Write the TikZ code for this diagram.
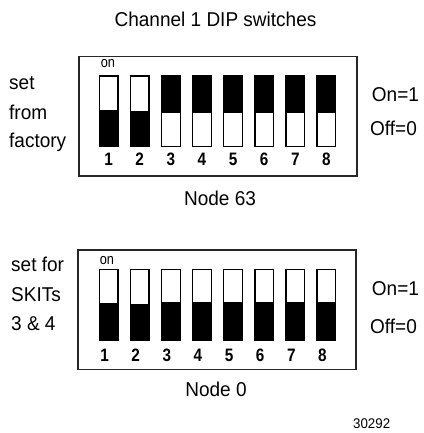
\documentclass[tikz,border=0pt]{standalone}
\usepackage{fontspec}
\setmainfont[FakeStretch=0.95]{Liberation Sans}
\newfontfamily\narrowfont[FakeStretch=0.85]{Liberation Sans}
\begin{document}
\begin{tikzpicture}[x=1pt,y=-1pt,
  lbl/.style={inner sep=0pt,font=\fontsize{20}{24}\selectfont},
  num/.style={inner sep=0pt,anchor=base,font=\narrowfont\fontsize{18}{20}\selectfont\bfseries},
  onl/.style={inner sep=0pt,anchor=base,font=\narrowfont\fontsize{15}{18}\selectfont},
  frame/.style={draw=black!85,line width=1.6pt},
  swline/.style={draw=black,line width=1.4pt},
  blk/.style={fill=black}]
\useasboundingbox (0,0) rectangle (423,433);
% ---------- frames ----------
\draw[frame] (78.7,56.7) rectangle (356.7,176);
\draw[frame] (78,250) rectangle (355.7,369.3);
% ---------- switches (top) ----------
\fill[blk] (99.3,110) rectangle (118,146.7);
\fill[blk] (130.4,111) rectangle (149.1,146.7);
\foreach \k in {2,...,7}{
  \fill[blk] ([xshift=\k*31.1pt]99.3,76) rectangle ([xshift=\k*31.1pt]118,113.3);
}
\foreach \k in {0,...,7}{
  \draw[swline] ([xshift=\k*31.1pt]99.3,76) rectangle ([xshift=\k*31.1pt]118,146.7);
}
% ---------- switches (bottom) ----------
\fill[blk] (99.3,303) rectangle (118,340);
\fill[blk] (130.4,304) rectangle (149.1,340);
\foreach \k in {2,...,7}{
  \fill[blk] ([xshift=\k*31.1pt]99.3,302) rectangle ([xshift=\k*31.1pt]118,340);
}
\foreach \k in {0,...,7}{
  \draw[swline] ([xshift=\k*31.1pt]99.3,269.3) rectangle ([xshift=\k*31.1pt]118,340);
}
% ---------- texts ----------
\node[lbl,anchor=base] (title) at (215.5,26.7) {Channel 1 DIP switches};
\node[onl] (onA) at (108,67.5) {on};
\node[onl] (onB) at (107,264.5) {on};
\foreach \i in {1,...,8}{
  \node[num] (nA\i) at ([xshift=(\i-1)*31.1pt]108.65,165.5) {\i};
  \node[num] (nB\i) at ([xshift=(\i-1)*31.1pt]104.65,361) {\i};
}
\node[lbl,anchor=base west] (setA1) at (9,90) {set};
\node[lbl,anchor=base west] (setA2) at (9,119) {from};
\node[lbl,anchor=base west] (setA3) at (9,147) {factory};
\node[lbl,anchor=base west] (onA1) at (371.7,101.7) {On=1};
\node[lbl,anchor=base west] (offA) at (370,135) {Off=0};
\node[lbl,anchor=base] (nodeA) at (220,205) {Node 63};
\node[lbl,anchor=base west] (setB1) at (11,271.7) {set for};
\node[lbl,anchor=base west] (setB2) at (11,301.7) {SKITs};
\node[lbl,anchor=base west] (setB3) at (11,330) {3 \& 4};
\node[lbl,anchor=base west] (onB1) at (371.7,295) {On=1};
\node[lbl,anchor=base west] (offB) at (370,333.3) {Off=0};
\node[lbl,anchor=base] (nodeB) at (216,396.7) {Node 0};
\node[inner sep=0pt,anchor=base west,font=\fontsize{14}{16}\selectfont] (fig) at (353,428.3) {30292};
\end{tikzpicture}
\end{document}
